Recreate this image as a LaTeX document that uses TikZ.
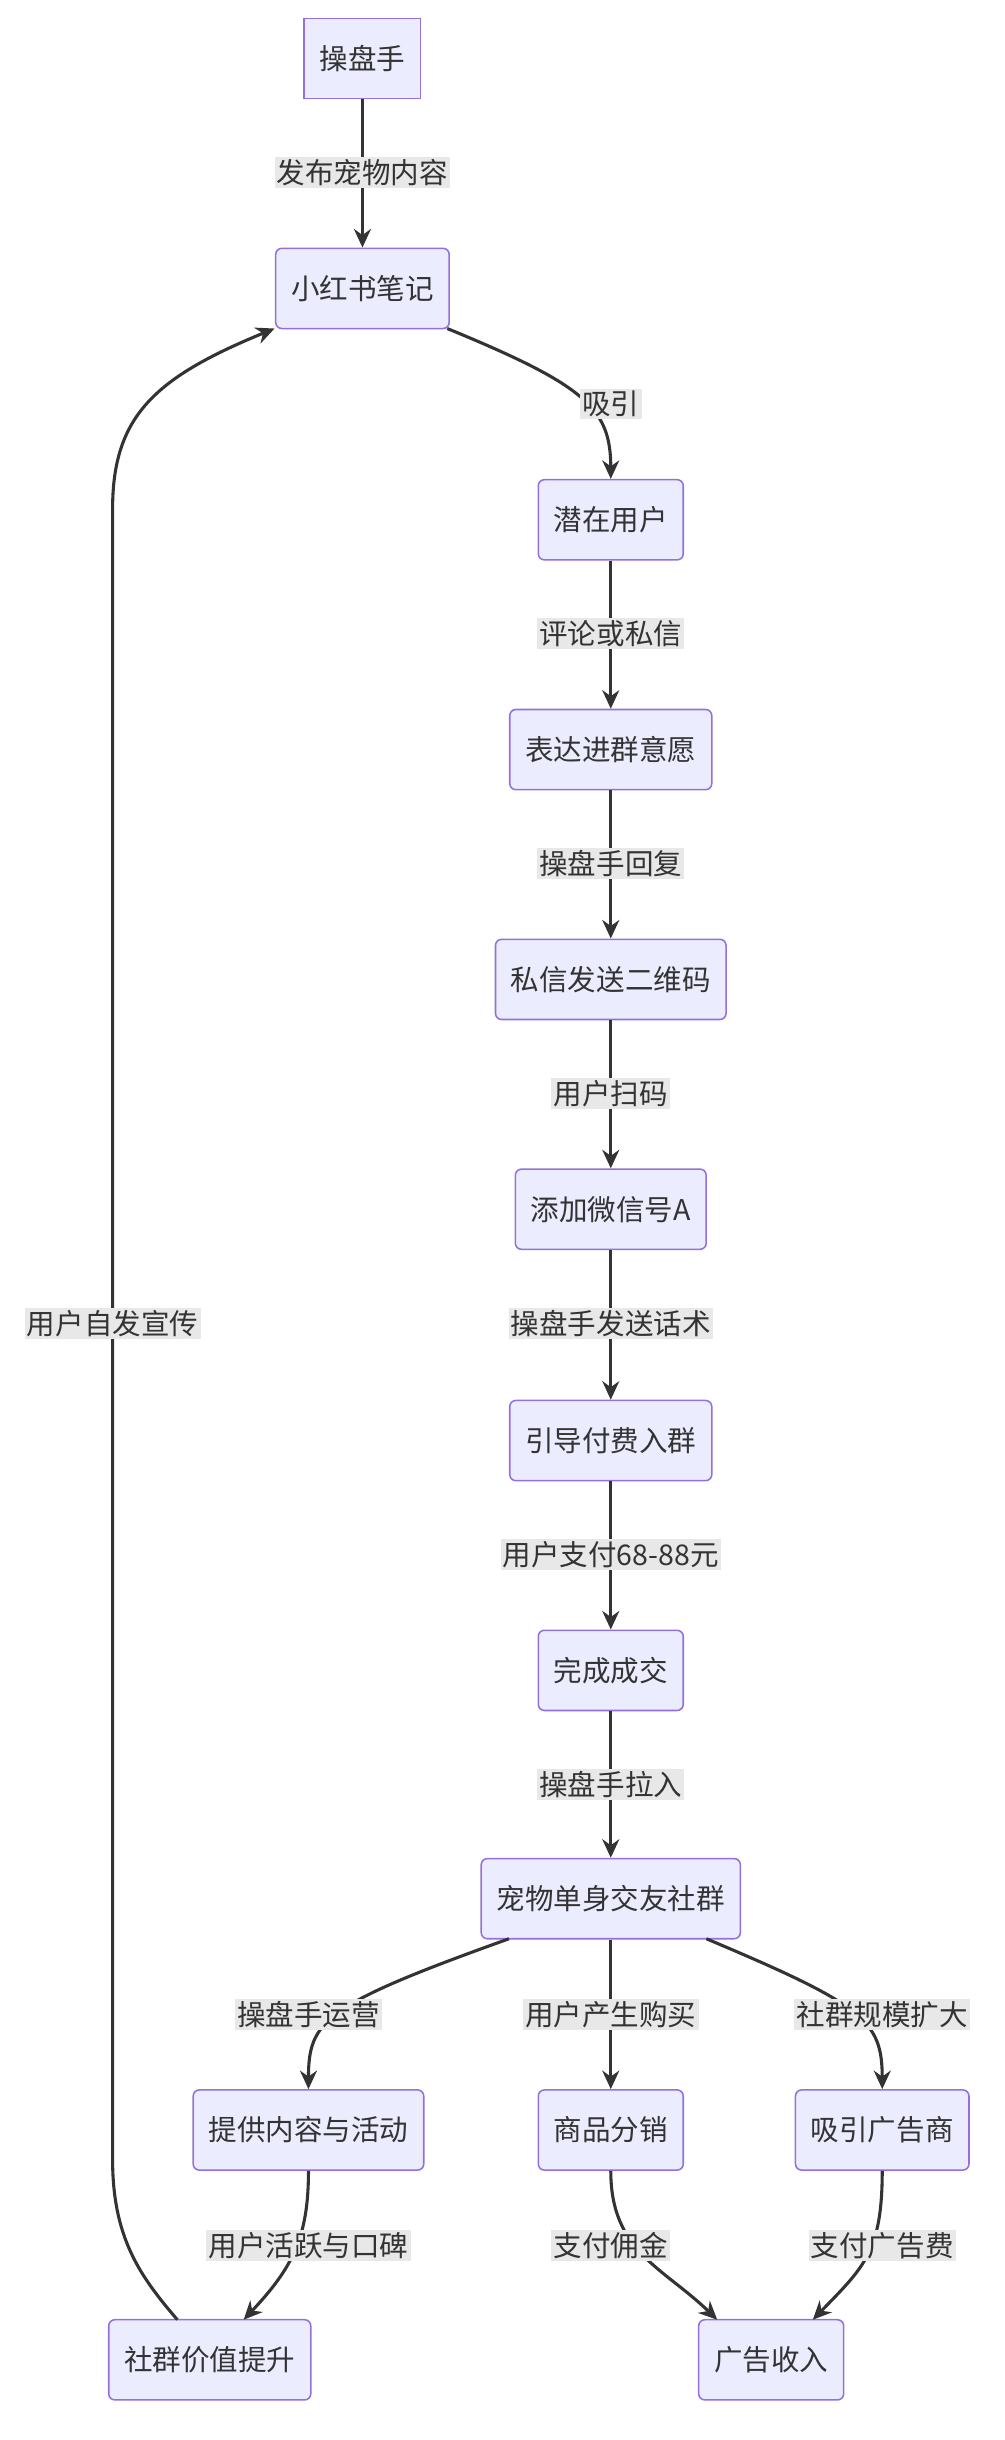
\documentclass[tikz,border=0pt]{standalone}
\usepackage{fontspec}
\setmainfont{Noto Sans CJK SC}
\usetikzlibrary{arrows.meta}
\definecolor{nfill}{HTML}{ECECFF}
\definecolor{nline}{HTML}{9370DB}
\definecolor{eline}{HTML}{333333}
\definecolor{lbg}{HTML}{E8E8E8}
\begin{document}
\begin{tikzpicture}[x=1pt,y=-1pt,
  box/.style={draw=nline,fill=nfill,line width=1pt,rounded corners=4pt,minimum height=52pt,inner xsep=10pt,font=\fontsize{18.5}{22}\selectfont,text=eline},
  sq/.style={box,rounded corners=0pt},
  lab/.style={fill=lbg,inner sep=1.5pt,font=\fontsize{18.5}{22}\selectfont,text=eline},
  ed/.style={draw=eline,line width=2pt,-{Stealth[length=12pt,width=11pt]}}]
\useasboundingbox (0,0) rectangle (651,1582);
\node[sq] (a) at (235,38) {操盘手};
\node[box] (b) at (235,187) {小红书笔记};
\node[box] (c) at (396,337) {潜在用户};
\node[box] (d) at (396,486) {表达进群意愿};
\node[box] (e) at (396,635) {私信发送二维码};
\node[box] (f) at (396,784) {添加微信号A};
\node[box] (g) at (396,934) {引导付费入群};
\node[box] (h) at (396,1083) {完成成交};
\node[box] (i) at (396,1231) {宠物单身交友社群};
\node[box] (j) at (200,1381) {提供内容与活动};
\node[box] (k) at (396,1381) {商品分销};
\node[box] (l) at (572,1381) {吸引广告商};
\node[box] (m) at (136,1530) {社群价值提升};
\node[box] (n) at (500,1530) {广告收入};
\draw[ed] (a) -- (b);
\draw[ed] (290,213) .. controls (380,250) and (396,265) .. (c.north);
\draw[ed] (c) -- (d);
\draw[ed] (d) -- (e);
\draw[ed] (e) -- (f);
\draw[ed] (f) -- (g);
\draw[ed] (g) -- (h);
\draw[ed] (h) -- (i);
\draw[ed] (330,1257) .. controls (210,1300) and (200,1310) .. (j.north);
\draw[ed] (i) -- (k);
\draw[ed] (458,1257) .. controls (560,1300) and (572,1310) .. (l.north);
\draw[ed] (j.south) .. controls (200,1450) and (190,1470) .. (158,1504);
\draw[ed] (k.south) .. controls (396,1460) and (430,1470) .. (465,1504);
\draw[ed] (l.south) .. controls (572,1460) and (560,1470) .. (527,1504);
\draw[ed] (115,1504) .. controls (90,1475) and (73,1450) .. (73,1400) -- (73,330) .. controls (73,270) and (100,245) .. (178,213);
\node[lab] (la) at (235,112) {发布宠物内容};
\node[lab] (lb) at (396,262) {吸引};
\node[lab] (lc) at (396,411) {评论或私信};
\node[lab] (ld) at (396,560) {操盘手回复};
\node[lab] (le) at (396,709) {用户扫码};
\node[lab] (lf) at (396,858) {操盘手发送话术};
\node[lab] (lg) at (396,1008) {用户支付68-88元};
\node[lab] (lh) at (396,1157) {操盘手拉入};
\node[lab] (li) at (200,1306) {操盘手运营};
\node[lab] (lk) at (396,1306) {用户产生购买};
\node[lab] (ll) at (572,1306) {社群规模扩大};
\node[lab] (lj) at (200,1456) {用户活跃与口碑};
\node[lab] (lm) at (396,1456) {支付佣金};
\node[lab] (ln) at (572,1456) {支付广告费};
\node[lab] (lo) at (73,858) {用户自发宣传};
\end{tikzpicture}
\end{document}
